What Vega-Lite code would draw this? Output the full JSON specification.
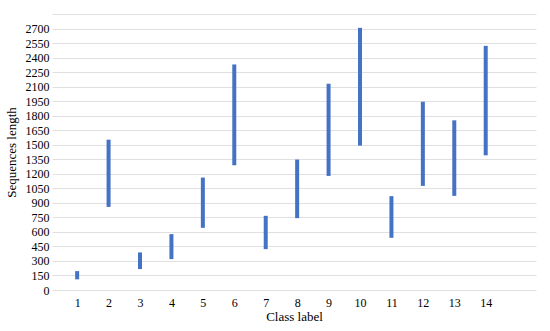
{
  "$schema": "https://vega.github.io/schema/vega-lite/v6.json",
  "width": 484,
  "height": 276,
  "autosize": {"type": "none"},
  "padding": {"left": 52, "top": 14, "right": 14, "bottom": 41},
  "background": "white",
  "config": {"view": {"stroke": null}, "font": "Liberation Serif"},
  "data": {"values": [
    {"cls": 1, "low": 110, "high": 195},
    {"cls": 2, "low": 858, "high": 1552},
    {"cls": 3, "low": 216, "high": 388},
    {"cls": 4, "low": 319, "high": 577},
    {"cls": 5, "low": 642, "high": 1161},
    {"cls": 6, "low": 1288, "high": 2329},
    {"cls": 7, "low": 422, "high": 766},
    {"cls": 8, "low": 742, "high": 1347},
    {"cls": 9, "low": 1178, "high": 2130},
    {"cls": 10, "low": 1491, "high": 2707},
    {"cls": 11, "low": 539, "high": 969},
    {"cls": 12, "low": 1075, "high": 1944},
    {"cls": 13, "low": 972, "high": 1752},
    {"cls": 14, "low": 1391, "high": 2521}
  ]},
  "mark": {"type": "rule", "strokeWidth": 4, "color": "#4472C4", "strokeCap": "butt"},
  "encoding": {
    "x": {
      "field": "cls", "type": "quantitative",
      "scale": {"domain": [0.2, 15.6], "nice": false, "zero": false},
      "axis": {
        "values": [1,2,3,4,5,6,7,8,9,10,11,12,13,14],
        "grid": false, "domain": false, "ticks": false,
        "labelPadding": 7, "labelFontSize": 12, "labelColor": "#000000",
        "title": "Class label", "titleFontSize": 13, "titleFontWeight": "normal",
        "titleColor": "#000000", "titlePadding": 2
      }
    },
    "y": {
      "field": "low", "type": "quantitative",
      "scale": {"domain": [0, 2850], "nice": false},
      "axis": {
        "values": [0,150,300,450,600,750,900,1050,1200,1350,1500,1650,1800,1950,2100,2250,2400,2550,2700,2850],
        "labelExpr": "datum.value == 2850 ? '' : datum.label",
        "format": "d",
        "grid": true, "gridColor": "#e0e0e0", "gridWidth": 1,
        "domain": false, "ticks": false,
        "labelPadding": 3, "labelFontSize": 12, "labelColor": "#000000",
        "title": "Sequences length", "titleFontSize": 13, "titleFontWeight": "normal",
        "titleColor": "#000000", "titlePadding": 7
      }
    },
    "y2": {"field": "high"}
  }
}
